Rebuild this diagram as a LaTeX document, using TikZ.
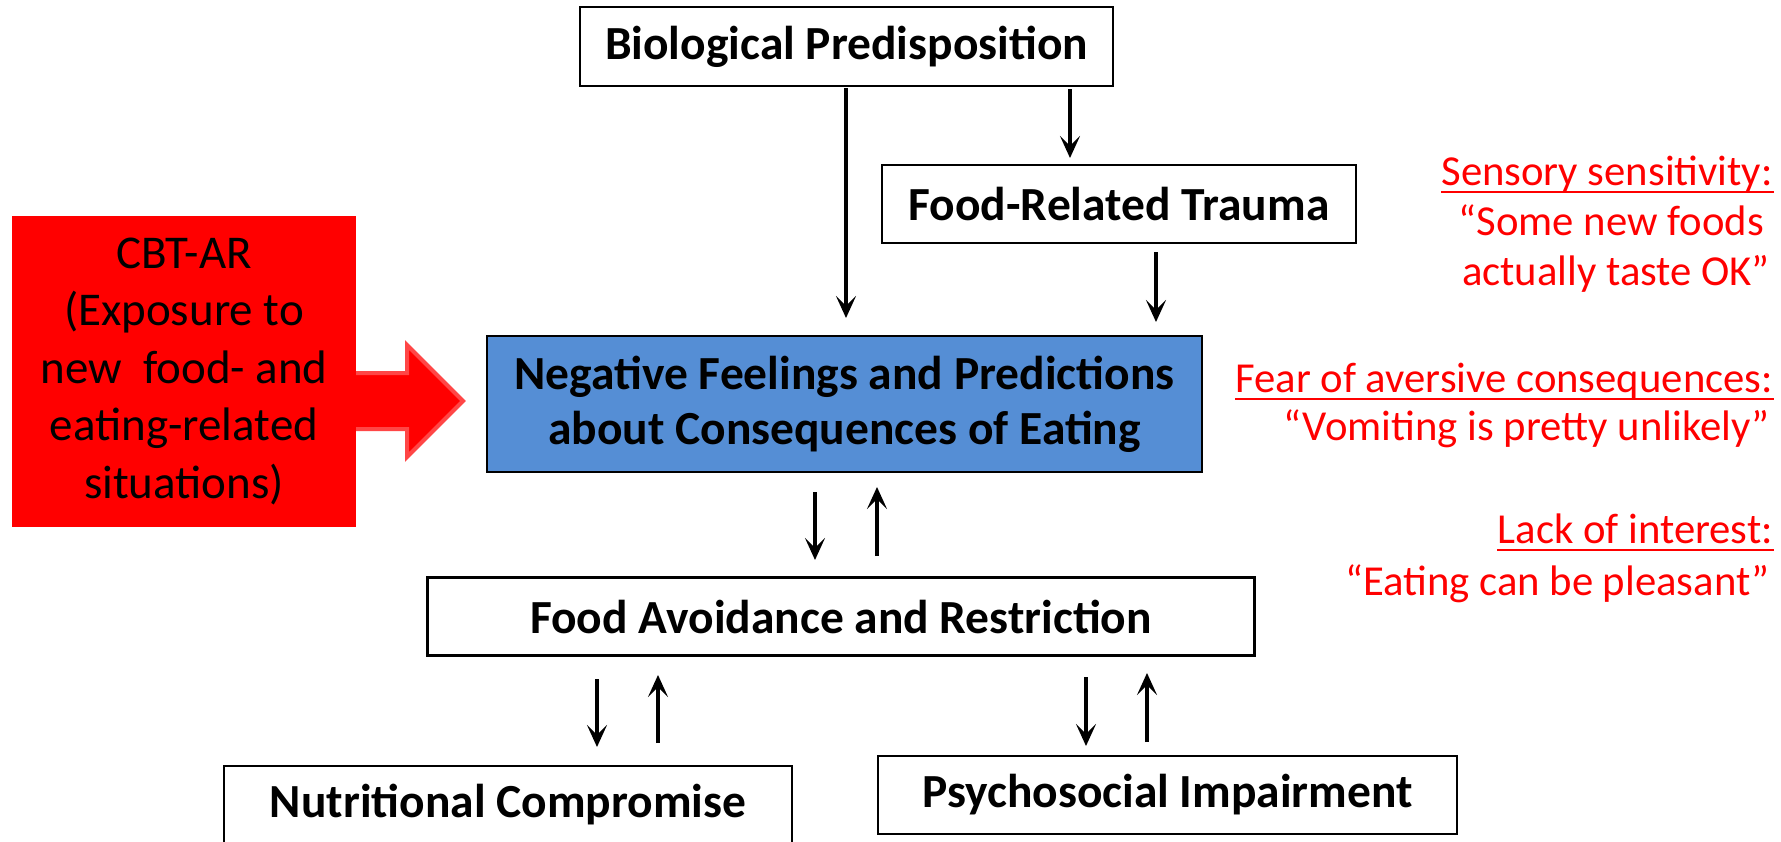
\documentclass[tikz,border=0pt]{standalone}
\usepackage{fontspec}
\setmainfont{Carlito}
\usetikzlibrary{arrows.meta,calc}
\definecolor{boxblue}{RGB}{85,142,213}
\definecolor{redtxt}{RGB}{255,0,0}
\definecolor{arrowedge}{RGB}{255,70,70}
\begin{document}
\begin{tikzpicture}[x=1pt,y=-1pt,
  box/.style={draw=black, line width=2.5pt, inner sep=0pt, align=center,
    font=\fontsize{47.5}{55}\selectfont\bfseries},
  arr/.style={line width=4pt, -{Stealth[length=22pt,width=20pt,inset=10pt]}},
  note/.style={text=redtxt, inner sep=0pt, anchor=base east,
    font=\fontsize{42.7}{50}\selectfont},
  uline/.style={draw=redtxt, line width=2.5pt}
]
\useasboundingbox (0,0) rectangle (1781,841);
\fill[white] (0,0) rectangle (1781,841);

% boxes
\node[box, minimum width=533pt, minimum height=79pt] (bio) at (846.5,46.5) {Biological Predisposition};
\node[box, minimum width=474pt, minimum height=78pt] (frt) at (1119,204) {Food-Related Trauma};
\node[box, fill=boxblue, minimum width=715pt, minimum height=136pt] (neg) at (844.5,404) {Negative Feelings and Predictions\\about Consequences of Eating};
\node[box, minimum width=827pt, minimum height=78pt] (fa) at (841,616.5) {Food Avoidance and Restriction};
\node[box, minimum width=568pt, minimum height=78pt] (nc) at (508,805) {Nutritional Compromise};
\node[box, minimum width=579pt, minimum height=78pt] (pi) at (1167.5,795) {Psychosocial Impairment};

% big red arrow and CBT-AR box
\coordinate (bigtip) at (463,401);
\filldraw[fill=redtxt, draw=arrowedge, line width=4pt, line join=miter]
  (340,373) -- (407,373) -- (407,345) -- (bigtip) -- (407,457) -- (407,429) -- (340,429) -- cycle;
\node[fill=redtxt, minimum width=344pt, minimum height=311pt, inner sep=0pt,
  align=center, font=\fontsize{47}{57.5}\selectfont] (cbt) at (184,371.5)
  {CBT-AR\\(Exposure to\\new\ \ food- and\\eating-related\\situations)};

% arrow end points
\coordinate (a1s) at (846,88);   \coordinate (a1e) at (846,318);
\coordinate (a2s) at (1070,89);  \coordinate (a2e) at (1070,158);
\coordinate (a3s) at (1156,252); \coordinate (a3e) at (1156,322);
\coordinate (a4s) at (815,492);  \coordinate (a4e) at (815,560);
\coordinate (a5s) at (877,556);  \coordinate (a5e) at (877,487);
\coordinate (a6s) at (597,679);  \coordinate (a6e) at (597,747);
\coordinate (a7s) at (658,743);  \coordinate (a7e) at (658,675);
\coordinate (a8s) at (1086,677); \coordinate (a8e) at (1086,746);
\coordinate (a9s) at (1147,742); \coordinate (a9e) at (1147,673);
\foreach \i in {1,...,9} { \draw[arr] (a\i s) -- (a\i e); }

% red notes
\node[note] (s1) at (1773,185) {Sensory sensitivity:};
\node[note] (s2) at (1764,235) {“Some new foods};
\node[note] (s3) at (1770,285) {actually taste OK”};
\node[note] (f1) at (1773,392) {Fear of aversive consequences:};
\node[note] (f2) at (1770,440) {“Vomiting is pretty unlikely”};
\node[note] (l1) at (1773,543) {Lack of interest:};
\node[note] (l2) at (1770,595) {“Eating can be pleasant”};
\draw[uline] ($(s1.base west)+(0,7)$) -- ($(s1.base east)+(1,7)$);
\draw[uline] ($(f1.base west)+(0,7)$) -- ($(f1.base east)+(1,7)$);
\draw[uline] ($(l1.base west)+(0,7)$) -- ($(l1.base east)+(1,7)$);
\end{tikzpicture}
\end{document}
